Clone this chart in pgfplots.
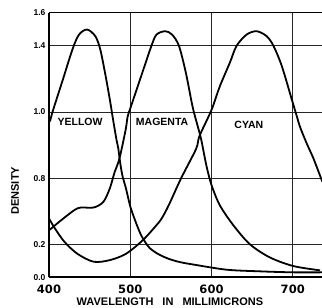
\documentclass[border=0pt]{standalone}
\usepackage{pgfplots}
\pgfplotsset{compat=1.18}
\usepackage{fontspec}
\setmainfont{Liberation Sans}
\newfontfamily\djv{DejaVu Sans}
\tikzset{curve/.style={black, line width=1.8pt, smooth, mark=none}}

\begin{document}
\begin{tikzpicture}
\begin{axis}[
  scale only axis, width=273pt, height=264.6pt,
  xmin=400, xmax=736, ymin=0, ymax=8,
  axis lines=left, axis line style={-, line width=1.6pt},
  xtick={400,500,600,700}, xticklabels={\textbf{400},\textbf{500},\textbf{600},\textbf{700}},
  ytick={0,1,3,5,7,8}, yticklabels={\textbf{0.0},\textbf{0.2},\textbf{0.8},\textbf{1.0},\textbf{1.4},\textbf{1.6}},
  major tick length=0pt,
  grid=major, major grid style={black!85, line width=0.6pt},
  xticklabel style={font=\djv\bfseries\fontsize{11.5}{12}\selectfont, anchor=base, yshift=-15.9pt},
  yticklabel style={font=\bfseries\fontsize{8.5}{9}\selectfont},
  xlabel={WAVELENGTH\hspace{9pt}IN\hspace{9pt}MILLIMICRONS},
  ylabel={DENSITY},
  xlabel style={font=\bfseries\fontsize{11}{12}\selectfont, at={(axis description cs:0.443,-0.0922)}, anchor=center},
  ylabel style={font=\bfseries\fontsize{11}{12}\selectfont, at={(axis description cs:-0.1245,0.327)}, anchor=center},
  clip=true,
]
% Yellow
\addplot[curve] coordinates {
(401.2,4.71) (405.1,5.06) (417.1,5.98) (429.0,6.90) (437.0,7.34) (447.0,7.49)
(457.0,7.29) (463.0,6.90) (468.9,6.19) (474.9,5.37) (478.9,4.76) (483.0,4.17)
(485.4,3.88) (486.9,3.58) (490.2,3.09) (494.7,2.69) (500.8,2.08) (511.4,1.38)
(518.0,1.08) (524.1,0.88) (534.6,0.70) (547.2,0.56) (561.0,0.46) (576.7,0.39)
(618.5,0.23) (659.6,0.18) (700.4,0.15) (736.2,0.15)
};
% Magenta
\addplot[curve] coordinates {
(400,1.42) (415.2,1.73) (431.1,2.03) (439.1,2.11) (455.0,2.11) (466.9,2.28)
(474.9,2.69) (480.9,3.19) (486.6,3.58) (494.4,4.47) (496.8,4.86) (500.8,5.16)
(513.4,6.08) (526.1,7.0) (532.4,7.34) (543.0,7.44) (551.4,7.34) (559.9,7.0)
(568.4,6.19) (576.7,5.16) (583.0,4.57) (587.3,4.17) (593.7,3.38) (600,2.79)
(610.2,2.18) (626.7,1.58) (647.2,1.0) (671.9,0.60) (700.7,0.34) (733.6,0.21)
};
% Cyan
\addplot[curve] coordinates {
(400,1.78) (407.2,1.48) (419.1,1.07) (435.0,0.71) (455.0,0.47) (474.9,0.52)
(494.7,0.71) (515.4,1.12) (532.4,1.58) (538.7,1.78) (547.2,2.17) (562.5,2.99)
(581.0,3.88) (585.2,4.27) (600,5.06) (610.2,5.77) (622.6,6.49) (630.9,7.0)
(643.3,7.34) (655.6,7.44) (667.9,7.29) (676.2,7.0) (686.5,6.39) (698.9,5.37)
(705.1,4.86) (709.2,4.53) (717.5,4.03) (725.7,3.58) (736.4,2.89)
};
\draw[line width=1.6pt] (rel axis cs:0,1) -- (rel axis cs:1,1);
\node[font=\bfseries\fontsize{10.5}{12}\selectfont] at (axis cs:438.2,4.69) {YELLOW};
\node[font=\bfseries\fontsize{10.5}{12}\selectfont] at (axis cs:539.2,4.70) {MAGENTA};
\node[font=\bfseries\fontsize{10.5}{12}\selectfont] at (axis cs:646,4.62) {CYAN};
\end{axis}
\pgfresetboundingbox
\useasboundingbox (-49pt,-30.7pt) rectangle (273pt,277.3pt);
\end{tikzpicture}
\end{document}
